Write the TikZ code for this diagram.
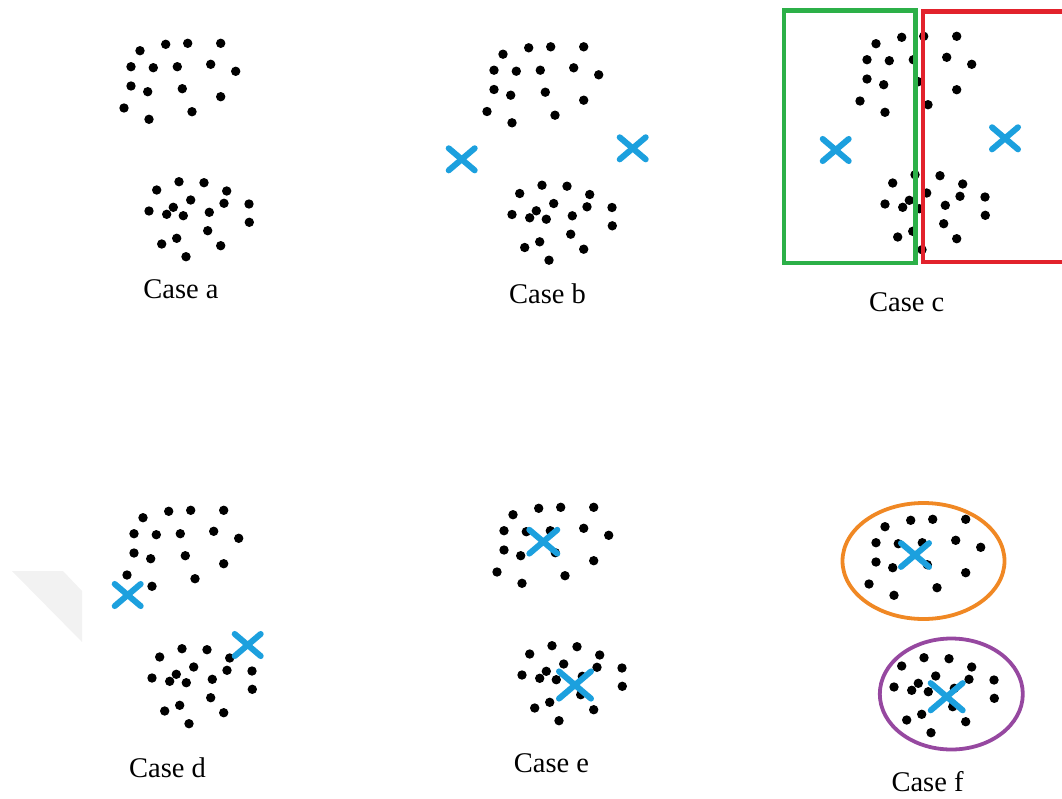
\documentclass[tikz,border=0pt]{standalone}
\usepackage{fontspec}
\setmainfont{Liberation Serif}
\usetikzlibrary{calc}
\definecolor{xblue}{RGB}{28,160,222}
\definecolor{cgreen}{RGB}{44,176,72}
\definecolor{cred}{RGB}{226,34,44}
\definecolor{corange}{RGB}{240,136,36}
\definecolor{cpurple}{RGB}{150,72,160}
\newcommand\mytopcluster{%
  \foreach \p in {(140,50.7),(165.7,44.3),(187.7,43.3),(220.7,43.3),(131,66.7),(153.3,67.7),(177.3,66.7),(210.7,64.3),(235.7,71.3),(131,86),(147.7,91.7),(182.3,88.7),(220.7,96.7),(124,108),(149,119.3),(192,111.7)}{\fill[black] \p circle [radius=4.7pt];}}
\newcommand\mybotcluster{%
  \foreach \p in {(156.7,190),(179,181.7),(204,182.7),(226.7,191),(190.7,200),(224,203.3),(249,204),(149,211),(173.3,207.3),(166.7,214.3),(183.3,215.7),(209.3,212.3),(249.3,222.3),(207.7,230.7),(176.7,238.3),(161.7,244),(220.7,245.7),(186,256.7)}{\fill[black] \p circle [radius=4.7pt];}}
\newcommand\mycross[3]{%
  \draw[crossline] ($(#1,#2)+(-#3,-0.85*#3)$) -- ($(#1,#2)+(#3,0.85*#3)$);
  \draw[crossline] ($(#1,#2)+(#3,-0.85*#3)$) -- ($(#1,#2)+(-#3,0.85*#3)$);}
\begin{document}
\begin{tikzpicture}[x=1pt,y=-1pt,
  crossline/.style={draw=xblue,line width=6pt,line cap=round},
  lab/.style={anchor=base,inner sep=0pt,font=\fontsize{28.5}{30}\selectfont}]
\useasboundingbox (0,0) rectangle (1062,798);
\fill[gray!10] (12,571) -- (63,571) -- (82,591) -- (82,642) -- cycle;
% clusters
\foreach \dx/\dy in {0/0,363/3.5,736/-7,3/467,373/464,745/476}{
  \begin{scope}[shift={(\dx,\dy)}]
    \mytopcluster
    \mybotcluster
  \end{scope}}
% case c boxes
\draw[cgreen,line width=4.8pt] (784,10.5) rectangle (915.5,263);
\draw[cred,line width=4.8pt] (923,11.5) rectangle (1075,262);
% case f ellipses
\draw[corange,line width=3.8pt] (923.5,561) ellipse [x radius=81pt, y radius=58pt];
\draw[cpurple,line width=3.8pt] (951.3,694) ellipse [x radius=71.5pt, y radius=55.5pt];
% crosses
\mycross{461.7}{159.3}{13}
\mycross{632.7}{148.3}{13}
\mycross{835.7}{150}{13}
\mycross{1005}{138.3}{13}
\mycross{127.7}{595}{13}
\mycross{247.7}{645}{13}
\mycross{543.3}{541.7}{14}
\mycross{575}{685}{16}
\mycross{915}{555}{14}
\mycross{946.7}{696.7}{16}
% labels
\node[lab] (la) at (181,298.3) {Case a};
\node[lab] (lb) at (547.5,303) {Case b};
\node[lab] (lc) at (906.7,311.7) {Case c};
\node[lab] (ld) at (167.5,777.3) {Case d};
\node[lab] (le) at (551.5,772) {Case e};
\node[lab] (lf) at (927.5,791.7) {Case f};
\end{tikzpicture}
\end{document}
